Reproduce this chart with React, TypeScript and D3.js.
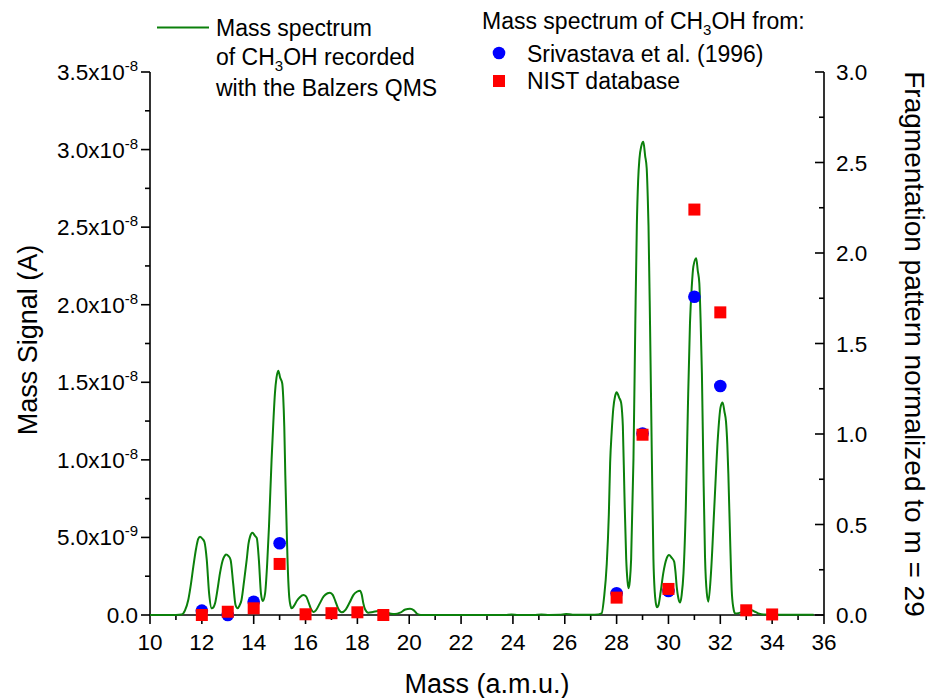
import React from "react";
import * as d3 from "d3";

// Measured QMS spectrum (mass in a.m.u., signal in units of 1e-8 A)
const spectrumMass = [
  10.0, 11.0, 11.22, 11.35, 11.48, 11.58, 11.67, 11.78, 11.86, 11.93, 12.03, 12.1, 12.19, 12.28, 12.38, 12.45,
  12.51, 12.6, 12.7, 12.8, 12.87, 12.93, 13.03, 13.11, 13.21, 13.3, 13.38, 13.45, 13.53, 13.63, 13.73, 13.8,
  13.86, 13.95, 14.05, 14.12, 14.2, 14.28, 14.35, 14.44, 14.52, 14.59, 14.69, 14.76, 14.82, 14.88, 14.95, 15.02,
  15.1, 15.14, 15.18, 15.22, 15.27, 15.31, 15.36, 15.42, 15.47, 15.56, 15.66, 15.78, 15.92, 16.02, 16.12, 16.22,
  16.3, 16.4, 16.55, 16.7, 16.85, 16.94, 17.05, 17.15, 17.25, 17.4, 17.55, 17.7, 17.85, 17.98, 18.1, 18.17,
  18.23, 18.3, 18.42, 18.6, 18.8, 18.94, 19.1, 19.3, 19.45, 19.65, 19.85, 20.03, 20.18, 20.3, 20.45, 21.0,
  23.7, 23.95, 24.2, 24.8, 25.1, 25.4, 25.8, 26.05, 26.3, 27.0, 27.3, 27.42, 27.52, 27.62, 27.7, 27.75,
  27.81, 27.87, 27.94, 28.0, 28.1, 28.17, 28.21, 28.24, 28.3, 28.37, 28.42, 28.46, 28.51, 28.56, 28.65, 28.72,
  28.78, 28.83, 28.88, 28.95, 29.03, 29.1, 29.16, 29.2, 29.23, 29.29, 29.36, 29.42, 29.47, 29.51, 29.56, 29.61,
  29.7, 29.8, 29.93, 30.02, 30.12, 30.22, 30.27, 30.32, 30.38, 30.45, 30.51, 30.58, 30.67, 30.75, 30.83, 30.9,
  30.96, 31.07, 31.13, 31.19, 31.24, 31.29, 31.35, 31.41, 31.48, 31.54, 31.64, 31.77, 31.9, 32.01, 32.09, 32.16,
  32.22, 32.27, 32.31, 32.38, 32.44, 32.5, 32.57, 32.7, 32.85, 33.05, 33.21, 33.35, 33.5, 33.66, 34.0, 34.1,
  34.3, 35.6,
];
const spectrumSignal = [
  0, 0, 0.003, 0.03, 0.1, 0.2, 0.31, 0.43, 0.49, 0.505, 0.49, 0.47, 0.355, 0.14, 0.043, 0.05,
  0.075, 0.16, 0.27, 0.35, 0.378, 0.39, 0.38, 0.355, 0.2, 0.064, 0.043, 0.06, 0.097, 0.22, 0.355, 0.46,
  0.505, 0.53, 0.51, 0.495, 0.355, 0.14, 0.09, 0.14, 0.33, 0.57, 1.0, 1.25, 1.43, 1.53, 1.575, 1.53,
  1.494, 1.4, 1.214, 0.9, 0.57, 0.33, 0.14, 0.06, 0.043, 0.06, 0.09, 0.115, 0.129, 0.12, 0.08, 0.035,
  0.02, 0.03, 0.075, 0.12, 0.14, 0.144, 0.13, 0.09, 0.045, 0.017, 0.035, 0.08, 0.13, 0.15, 0.157, 0.13,
  0.075, 0.035, 0.015, 0.02, 0.026, 0.028, 0.02, 0.008, 0.006, 0.015, 0.035, 0.04, 0.03, 0.008, 0.0, 0,
  0, 0.004, 0, 0, 0.004, 0, 0.001, 0.007, 0.002, 0.001, 0.004, 0.01, 0.12, 0.33, 0.65, 0.98,
  1.18, 1.328, 1.41, 1.436, 1.4, 1.371, 1.31, 1.22, 0.79, 0.36, 0.22, 0.172, 0.22, 0.36, 1.006, 1.865,
  2.51, 2.8, 2.94, 3.02, 3.05, 2.96, 2.88, 2.7, 2.51, 1.865, 1.006, 0.36, 0.15, 0.08, 0.05, 0.06,
  0.15, 0.27, 0.365, 0.387, 0.37, 0.344, 0.28, 0.18, 0.11, 0.08, 0.13, 0.27, 0.7, 1.34, 1.88, 2.12,
  2.246, 2.3, 2.22, 2.14, 1.9, 1.56, 0.91, 0.376, 0.14, 0.086, 0.27, 0.7, 1.128, 1.34, 1.37, 1.31,
  1.246, 1.1, 0.91, 0.48, 0.16, 0.05, 0.01, 0.012, 0.02, 0.028, 0.03, 0.02, 0.008, 0.003, 0.002, 0.004,
  0.001, 0.001,
];

// Fragmentation patterns (normalized to m = 29)
const srivMass = [12, 13, 14, 15, 28, 29, 30, 31, 32];
const srivValue = [0.024, 0.0, 0.073, 0.396, 0.12, 1.003, 0.133, 1.758, 1.265];
const nistMass = [12, 13, 14, 15, 16, 17, 18, 19, 28, 29, 30, 31, 32, 33, 34];
const nistValue = [0.0, 0.018, 0.037, 0.282, 0.004, 0.01, 0.015, 0.0, 0.096, 0.996, 0.144, 2.24, 1.672, 0.026, 0.003];

// Axis ticks
const xMajorTicks = [10, 12, 14, 16, 18, 20, 22, 24, 26, 28, 30, 32, 34, 36];
const xMinorTicks = [11, 13, 15, 17, 19, 21, 23, 25, 27, 29, 31, 33, 35];
const leftMajorTicks = [0, 0.5, 1.0, 1.5, 2.0, 2.5, 3.0, 3.5];
const leftTickMantissa = ["0.0", "5.0x10", "1.0x10", "1.5x10", "2.0x10", "2.5x10", "3.0x10", "3.5x10"];
const leftTickExponent = ["", "-9", "-8", "-8", "-8", "-8", "-8", "-8"];
const leftMinorTicks = [0.25, 0.75, 1.25, 1.75, 2.25, 2.75, 3.25];
const rightMajorTicks = [0, 0.5, 1.0, 1.5, 2.0, 2.5, 3.0];
const rightTickLabels = ["0.0", "0.5", "1.0", "1.5", "2.0", "2.5", "3.0"];
const rightMinorTicks = [0.25, 0.75, 1.25, 1.75, 2.25, 2.75];

const FONT = "'Liberation Sans', Arial, Helvetica, sans-serif";
const GREEN = "#0b800b";

export default function App() {
  const L = 150, R = 824, T = 72, B = 615;
  const x = d3.scaleLinear().domain([10, 36]).range([L, R]);
  const yL = d3.scaleLinear().domain([0, 3.5]).range([B, T]);
  const yR = d3.scaleLinear().domain([0, 3.0]).range([B, T]);

  const pts = spectrumMass.map((m, i) => [m, spectrumSignal[i]] as [number, number]);
  const linePath = d3
    .line<[number, number]>()
    .x((d) => x(d[0]))
    .y((d) => yL(d[1]))
    .curve(d3.curveMonotoneX)(pts) as string;

  const tickFs = 22.5;
  const legFs = 23;
  const sq = 12;

  return (
    <svg
      width={933}
      height={698}
      style={{ position: "absolute", left: 0, top: 0, background: "#fff" }}
      fontFamily={FONT}
    >
      <rect x={0} y={0} width={933} height={698} fill="#fff" />

      {/* axes lines */}
      <g stroke="#000" strokeWidth={1.6} fill="none">
        <line x1={L} y1={B} x2={R} y2={B} />
        <line x1={L} y1={T} x2={L} y2={B} />
        <line x1={R} y1={T} x2={R} y2={B} />
        {xMajorTicks.map((t) => (
          <line key={"xM" + t} x1={x(t)} x2={x(t)} y1={B} y2={B + 9} />
        ))}
        {xMinorTicks.map((t) => (
          <line key={"xm" + t} x1={x(t)} x2={x(t)} y1={B} y2={B + 5} />
        ))}
        {leftMajorTicks.map((t) => (
          <line key={"lM" + t} x1={L - 9} x2={L} y1={yL(t)} y2={yL(t)} />
        ))}
        {leftMinorTicks.map((t) => (
          <line key={"lm" + t} x1={L - 5} x2={L} y1={yL(t)} y2={yL(t)} />
        ))}
        {rightMajorTicks.map((t) => (
          <line key={"rM" + t} x1={R - 9} x2={R} y1={yR(t)} y2={yR(t)} />
        ))}
        {rightMinorTicks.map((t) => (
          <line key={"rm" + t} x1={R - 5} x2={R} y1={yR(t)} y2={yR(t)} />
        ))}
      </g>

      {/* spectrum line */}
      <path d={linePath} fill="none" stroke={GREEN} strokeWidth={2} strokeLinejoin="round" />

      {/* Srivastava points */}
      {srivMass.map((m, i) => (
        <circle key={"s" + m} cx={x(m)} cy={yR(srivValue[i])} r={6.3} fill="#0000ff" />
      ))}
      {/* NIST points */}
      {nistMass.map((m, i) => (
        <rect
          key={"n" + m}
          x={x(m) - sq / 2}
          y={yR(nistValue[i]) - sq / 2}
          width={sq}
          height={sq}
          fill="#ff0000"
        />
      ))}

      {/* x tick labels */}
      {xMajorTicks.map((t) => (
        <text key={"xl" + t} x={x(t)} y={B + 35} fontSize={tickFs} textAnchor="middle" fill="#000">
          {t}
        </text>
      ))}
      {/* left tick labels */}
      {leftMajorTicks.map((t, i) => (
        <text key={"ll" + t} x={138} y={yL(t) + 8} fontSize={tickFs} textAnchor="end" fill="#000">
          {leftTickMantissa[i]}
          {leftTickExponent[i] && (
            <tspan dy={-9} fontSize={15}>
              {leftTickExponent[i]}
            </tspan>
          )}
        </text>
      ))}
      {/* right tick labels */}
      {rightMajorTicks.map((t, i) => (
        <text key={"rl" + t} x={836} y={yR(t) + 8} fontSize={tickFs} textAnchor="start" fill="#000">
          {rightTickLabels[i]}
        </text>
      ))}

      {/* axis titles */}
      <text x={487} y={693} fontSize={27} textAnchor="middle" fill="#000">
        Mass (a.m.u.)
      </text>
      <text
        transform="translate(37,340) rotate(-90)"
        fontSize={27}
        textAnchor="middle"
        fill="#000"
      >
        Mass Signal (A)
      </text>
      <text
        transform="translate(905,344) rotate(90)"
        fontSize={28}
        textAnchor="middle"
        fill="#000"
      >
        Fragmentation pattern normalized to m = 29
      </text>

      {/* left legend */}
      <line x1={157} x2={209} y1={27.5} y2={27.5} stroke={GREEN} strokeWidth={2} />
      <g fontSize={legFs} fill="#000">
        <text x={216} y={36}>Mass spectrum</text>
        <text x={216} y={65}>
          of CH
          <tspan dy={6} fontSize={15}>3</tspan>
          <tspan dy={-6}>OH recorded</tspan>
        </text>
        <text x={216} y={96}>with the Balzers QMS</text>
      </g>

      {/* right legend */}
      <g fontSize={legFs} fill="#000">
        <text x={482} y={29}>
          Mass spectrum of CH
          <tspan dy={6} fontSize={15}>3</tspan>
          <tspan dy={-6}>OH from:</tspan>
        </text>
        <circle cx={499} cy={53} r={6.3} fill="#0000ff" />
        <text x={527} y={62}>Srivastava et al. (1996)</text>
        <rect x={499 - sq / 2} y={81 - sq / 2} width={sq} height={sq} fill="#ff0000" />
        <text x={527} y={89}>NIST database</text>
      </g>
    </svg>
  );
}
